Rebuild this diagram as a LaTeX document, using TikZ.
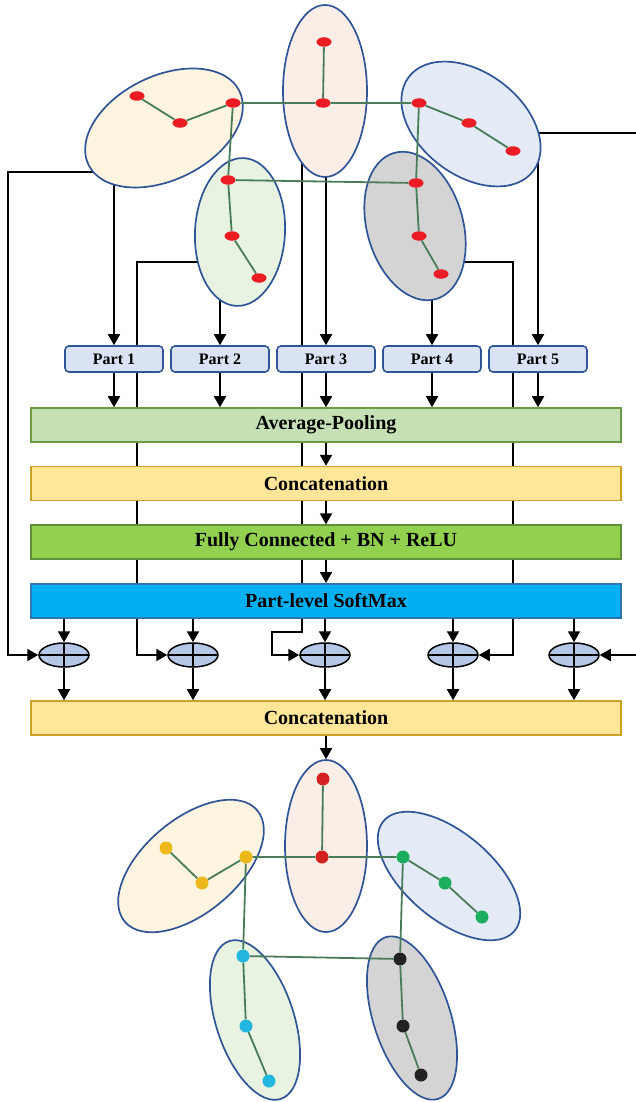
\documentclass[tikz,border=0pt]{standalone}
\usepackage{fontspec}
\setmainfont{Liberation Serif}
\usetikzlibrary{positioning,shapes.geometric,arrows.meta,backgrounds}

\definecolor{edgeblue}{HTML}{2F5597}
\definecolor{bonegreen}{HTML}{4A7C59}
\definecolor{jointred}{HTML}{EC1C24}
\definecolor{headfill}{HTML}{FBEEE6}
\definecolor{larmfill}{HTML}{FEF4E0}
\definecolor{rarmfill}{HTML}{E4EBF7}
\definecolor{llegfill}{HTML}{E9F3E2}
\definecolor{rlegfill}{HTML}{D4D4D4}
\definecolor{partfill}{HTML}{DAE3F3}
\definecolor{poolfill}{HTML}{C5E0B4}
\definecolor{poolline}{HTML}{6A9B45}
\definecolor{catfill}{HTML}{FFE699}
\definecolor{catline}{HTML}{C9A227}
\definecolor{fcfill}{HTML}{92D050}
\definecolor{fcline}{HTML}{5E8F3A}
\definecolor{smfill}{HTML}{00B0F0}
\definecolor{smline}{HTML}{2E75B6}
\definecolor{sumfill}{HTML}{B4C7E7}
\definecolor{jred}{HTML}{D42222}
\definecolor{jyellow}{HTML}{EDB91A}
\definecolor{jgreen}{HTML}{1BAE5E}
\definecolor{jcyan}{HTML}{22B6E0}
\definecolor{jblack}{HTML}{222222}

\tikzset{
  limb/.style={ellipse, draw=edgeblue, line width=1.7pt, inner sep=0pt},
  joint/.style={ellipse, fill=jointred, minimum width=15pt, minimum height=9.5pt, inner sep=0pt},
  dot/.style={circle, minimum size=13pt, inner sep=0pt},
  bone/.style={draw=bonegreen, line width=1.8pt},
  partbox/.style={draw=edgeblue, fill=partfill, rounded corners=4pt, line width=1.6pt,
    minimum width=98pt, minimum height=26pt, inner sep=0pt,
    font=\fontsize{16}{19}\selectfont\bfseries},
  bar/.style={minimum width=590pt, minimum height=34pt, line width=1.6pt, inner sep=0pt,
    font=\fontsize{20}{24}\selectfont\bfseries},
  oplus/.style={ellipse, draw, fill=sumfill, line width=1.5pt, minimum width=50pt,
    minimum height=24pt, inner sep=0pt,
    path picture={\draw[line width=1.5pt]
      (path picture bounding box.west) -- (path picture bounding box.east)
      (path picture bounding box.north) -- (path picture bounding box.south);}},
  arr/.style={-{Triangle[length=11pt,width=12pt]}, line width=1.8pt},
}

\begin{document}
\begin{tikzpicture}[x=1pt, y=-1pt]
    \useasboundingbox (0,0) rectangle (635,1102);

    % Input skeleton: body parts
    \node[limb, fill=headfill, minimum width=84pt, minimum height=172pt] (hd) at (325,91) {};
    \node[limb, fill=larmfill, minimum width=168pt, minimum height=104pt, rotate=26] (la) at (164,128) {};
    \node[limb, fill=rarmfill, minimum width=156pt, minimum height=103pt, rotate=-37] (ra) at (471,124) {};
    \node[limb, fill=llegfill, minimum width=90pt, minimum height=148pt, rotate=-3] (ll) at (240,232) {};
    \node[limb, fill=rlegfill, minimum width=96pt, minimum height=152pt, rotate=16] (rl) at (415,226) {};

    % Input skeleton: joints
    \node[joint] (h1) at (324,42) {};
    \node[joint] (h0) at (323,103) {};
    \node[joint] (la1) at (233,103) {};
    \node[joint] (la2) at (180,123) {};
    \node[joint] (la3) at (137,96) {};
    \node[joint] (ra1) at (419,103) {};
    \node[joint] (ra2) at (469,123) {};
    \node[joint] (ra3) at (513,151) {};
    \node[joint] (ll1) at (228,180) {};
    \node[joint] (ll2) at (232,236) {};
    \node[joint] (ll3) at (259,278) {};
    \node[joint] (rl1) at (416,183) {};
    \node[joint] (rl2) at (419,236) {};
    \node[joint] (rl3) at (441,274) {};

    % Input skeleton: bones
    \draw[bone] (h1) -- (h0) (la3) -- (la2) -- (la1) -- (h0) -- (ra1) -- (ra2) -- (ra3)
        (la1) -- (ll1) -- (ll2) -- (ll3) (ll1) -- (rl1) -- (rl2) -- (rl3) (ra1) -- (rl1);

    % Part nodes
    \node[partbox] (p1) at (114,359) {Part 1};
    \node[partbox, right=6.4pt of p1] (p2) {Part 2};
    \node[partbox, right=6.4pt of p2] (p3) {Part 3};
    \node[partbox, right=6.4pt of p3] (p4) {Part 4};
    \node[partbox, right=6.4pt of p4] (p5) {Part 5};

    % Layers
    \node[bar, fill=poolfill, draw=poolline] (pool) at (326,425) {Average-Pooling};
    \node[bar, fill=catfill, draw=catline, below=23pt of pool] (cat1) {Concatenation};
    \node[bar, fill=fcfill, draw=fcline, below=23pt of cat1] (fc) {Fully Connected + BN + ReLU};
    \node[bar, fill=smfill, draw=smline, below=23pt of fc] (sm) {Part-level SoftMax};

    % Weighted sums
    \node[oplus] (s1) at (64,655) {};
    \node[oplus] (s2) at (193,655) {};
    \node[oplus] (s3) at (325,655) {};
    \node[oplus] (s4) at (453,655) {};
    \node[oplus] (s5) at (574,655) {};

    \node[bar, fill=catfill, draw=catline] (cat2) at (326,718) {Concatenation};

    % Connections
    \foreach \i in {1,...,5} {
        \draw[arr] (p\i.south) -- (p\i.south |- pool.north);
        \draw[arr] (sm.south -| s\i) -- (s\i.north);
        \draw[arr] (s\i.south) -- (s\i.south |- cat2.north);
    }
    \draw[arr] (pool) -- (cat1);
    \draw[arr] (cat1) -- (fc);
    \draw[arr] (fc) -- (sm);

    % Lines leaving the body parts (behind everything)
    \coordinate (laL) at (98,172);
    \coordinate (laD) at (114,180);
    \coordinate (llL) at (202,262);
    \coordinate (llD) at (220,292);
    \coordinate (hdL) at (302,160);
    \coordinate (hdD) at (326,172);
    \coordinate (rlD) at (432,290);
    \coordinate (rlR) at (460,262);
    \coordinate (raD) at (538,157);
    \coordinate (raR) at (532,133);
    \begin{pgfonlayer}{background}
        \draw[arr] (laD) -- (p1);
        \draw[arr] (llD) -- (p2);
        \draw[arr] (hdD) -- (p3);
        \draw[arr] (rlD) -- (p4);
        \draw[arr] (raD) -- (p5);
        \draw[arr] (laL) -- ++(-90,0) |- (s1.west);
        \draw[arr] (llL) -- ++(-65,0) |- (s2.west);
        \draw[arr] (hdL) |- ++(-30,472) |- (s3.west);
        \draw[arr] (rlR) -- ++(53,0) |- (s4.east);
        \draw[arr] (raR) -- ++(112,0) |- (s5.east);
    \end{pgfonlayer}

    % Output skeleton: body parts
    \node[limb, fill=headfill, minimum width=82pt, minimum height=172pt] (bhd) at (326,846) {};
    \node[limb, fill=larmfill, minimum width=173pt, minimum height=94pt, rotate=40] (bla) at (191,866) {};
    \node[limb, fill=rarmfill, minimum width=171pt, minimum height=87pt, rotate=-40] (bra) at (449,876) {};
    \node[limb, fill=llegfill, minimum width=78pt, minimum height=166pt, rotate=18] (bll) at (255,1020) {};
    \node[limb, fill=rlegfill, minimum width=77pt, minimum height=170pt, rotate=18] (brl) at (412,1018) {};

    \draw[arr] (cat2) -- (bhd);

    % Output skeleton: joints
    \node[dot, fill=jred] (bh1) at (323,779) {};
    \node[dot, fill=jred] (bh0) at (322,857) {};
    \node[dot, fill=jyellow] (bla1) at (246,857) {};
    \node[dot, fill=jyellow] (bla2) at (202,883) {};
    \node[dot, fill=jyellow] (bla3) at (166,848) {};
    \node[dot, fill=jgreen] (bra1) at (403,857) {};
    \node[dot, fill=jgreen] (bra2) at (445,883) {};
    \node[dot, fill=jgreen] (bra3) at (482,917) {};
    \node[dot, fill=jcyan] (bll1) at (243,956) {};
    \node[dot, fill=jcyan] (bll2) at (246,1026) {};
    \node[dot, fill=jcyan] (bll3) at (269,1081) {};
    \node[dot, fill=jblack] (brl1) at (400,959) {};
    \node[dot, fill=jblack] (brl2) at (403,1026) {};
    \node[dot, fill=jblack] (brl3) at (421,1075) {};

    % Output skeleton: bones
    \draw[bone] (bh1) -- (bh0) (bla3) -- (bla2) -- (bla1) -- (bh0) -- (bra1) -- (bra2) -- (bra3)
        (bla1) -- (bll1) -- (bll2) -- (bll3) (bll1) -- (brl1) -- (brl2) -- (brl3) (bra1) -- (brl1);
\end{tikzpicture}
\end{document}
